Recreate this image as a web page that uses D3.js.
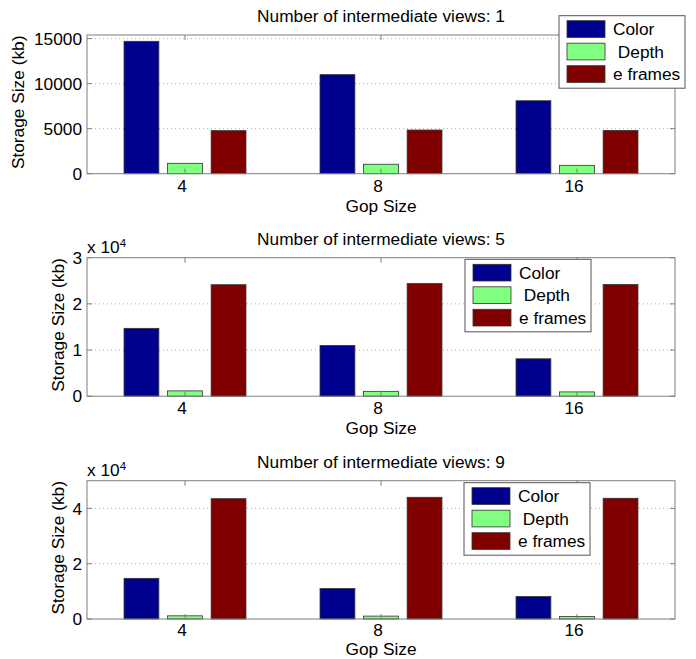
<!DOCTYPE html>
<html>
<head>
<meta charset="utf-8">
<script src="https://cdn.jsdelivr.net/npm/d3@7"></script>
<style>
  body { margin: 0; background: #fff; }
  text { font-family: "Liberation Sans", Arial, sans-serif; fill: #000; }
</style>
</head>
<body>
<script>
/* Data */
var gopSizes = ["4", "8", "16"],
	seriesNames = ["Color", " Depth", "e frames"],
	seriesColors = ["#00008f", "#80ff80", "#800000"],
	viewCounts = [1, 5, 9],
	colorKb = [14700, 11000, 8100],
	depthKb = [1150, 1050, 930],
	eFramesViews1 = [4780, 4850, 4800],
	eFramesViews5 = [24150, 24400, 24200],
	eFramesViews9 = [43500, 44000, 43650],
	yTicksViews1 = [0, 5000, 10000, 15000],
	yTicksViews5 = [0, 10000, 20000, 30000],
	yTicksViews9 = [0, 20000, 40000];

/* Panel layout */
var W = 696, H = 659,
	axLeft = 87, axRight = 675,
	panels = [
		{views: viewCounts[0], eFrames: eFramesViews1, ticks: yTicksViews1, yMax: 15400, top: 35, bottom: 173.7, factor: 1, ylabelX: 24, legend: [559, 15.7], tickDy: 18, xlabelDy: 37.8},
		{views: viewCounts[1], eFrames: eFramesViews5, ticks: yTicksViews5, yMax: 30000, top: 257.7, bottom: 396.2, factor: 1e4, ylabelX: 64, legend: [465, 259.3], tickDy: 18, xlabelDy: 37.8},
		{views: viewCounts[2], eFrames: eFramesViews9, ticks: yTicksViews9, yMax: 50000, top: 480.7, bottom: 619, factor: 1e4, ylabelX: 64, legend: [464, 482.7], tickDy: 16.6, xlabelDy: 35.8}
	];

var svg = d3.select("body").append("svg")
	.attr("width", W)
	.attr("height", H);
svg.append("rect").attr("width", W).attr("height", H).style("fill", "white");

var x = d3.scaleLinear().domain([0.5, 3.5]).range([axLeft, axRight]);
// matlab grouped bar: 3 series, offset 2/9, width 0.8 of that
var barStep = 2 / 9, barWidth = barStep * 0.8;
var fontSize = 17.3, axisGray = "#7f7f7f";

panels.forEach(function(p) {
	var y = d3.scaleLinear().domain([0, p.yMax]).range([p.bottom, p.top]);
	var g = svg.append("g");
	var series = [colorKb, depthKb, p.eFrames];

	// grid lines
	g.selectAll("line.grid")
		.data(p.ticks.filter(function(t) { return t > 0 && t < p.yMax; }))
		.enter().append("line")
			.attr("x1", axLeft).attr("x2", axRight)
			.attr("y1", function(d) { return y(d); })
			.attr("y2", function(d) { return y(d); })
			.style("stroke", "#b0b0b0")
			.style("stroke-width", 1)
			.style("stroke-dasharray", "1,3");

	// bars
	series.forEach(function(vals, j) {
		g.selectAll("rect.s" + j)
			.data(vals)
			.enter().append("rect")
				.attr("x", function(d, i) { return x(i + 1 + (j - 1) * barStep - barWidth / 2); })
				.attr("width", x(barWidth) - x(0))
				.attr("y", function(d) { return y(d); })
				.attr("height", function(d) { return y(0) - y(d); })
				.style("fill", seriesColors[j])
				.style("stroke", "#333")
				.style("stroke-width", 0.8);
	});

	// axis box
	g.append("rect")
		.attr("x", axLeft).attr("y", p.top)
		.attr("width", axRight - axLeft).attr("height", p.bottom - p.top)
		.style("fill", "none").style("stroke", axisGray).style("stroke-width", 1);

	// y ticks left and right, pointing in
	p.ticks.forEach(function(t) {
		[[axLeft, 5], [axRight, -5]].forEach(function(s) {
			g.append("line")
				.attr("x1", s[0]).attr("x2", s[0] + s[1])
				.attr("y1", y(t)).attr("y2", y(t))
				.style("stroke", axisGray);
		});
	});
	g.selectAll("text.ytick")
		.data(p.ticks)
		.enter().append("text")
			.attr("x", axLeft - 5)
			.attr("y", function(d) { return y(d); })
			.attr("dy", "0.36em")
			.attr("text-anchor", "end")
			.style("font-size", fontSize + "px")
			.text(function(d) { return d / p.factor; });

	// x ticks bottom and top
	gopSizes.forEach(function(lab, i) {
		[[p.bottom, -5], [p.top, 5]].forEach(function(s) {
			g.append("line")
				.attr("x1", x(i + 1)).attr("x2", x(i + 1))
				.attr("y1", s[0]).attr("y2", s[0] + s[1])
				.style("stroke", axisGray);
		});
		g.append("text")
			.attr("x", x(i + 1) - 3)
			.attr("y", p.bottom + p.tickDy)
			.attr("text-anchor", "middle")
			.style("font-size", fontSize + "px")
			.text(lab);
	});

	// exponent label
	if (p.factor !== 1) {
		var ex = g.append("text")
			.attr("x", axLeft)
			.attr("y", p.top - 5)
			.style("font-size", fontSize + "px");
		ex.append("tspan").text("x 10");
		ex.append("tspan")
			.attr("dy", "-0.5em")
			.style("font-size", "11.5px")
			.text("4");
	}

	// title and axis labels
	g.append("text")
		.attr("x", (axLeft + axRight) / 2)
		.attr("y", p.top - 13)
		.attr("text-anchor", "middle")
		.style("font-size", fontSize + "px")
		.text("Number of intermediate views: " + p.views);
	g.append("text")
		.attr("x", (axLeft + axRight) / 2)
		.attr("y", p.bottom + p.xlabelDy)
		.attr("text-anchor", "middle")
		.style("font-size", fontSize + "px")
		.text("Gop Size");
	g.append("text")
		.attr("transform", "translate(" + p.ylabelX + "," + ((p.top + p.bottom) / 2 - 2) + ") rotate(-90)")
		.attr("text-anchor", "middle")
		.style("font-size", fontSize + "px")
		.text("Storage Size (kb)");

	// legend
	var lg = g.append("g").attr("transform", "translate(" + p.legend[0] + "," + p.legend[1] + ")");
	lg.append("rect")
		.attr("width", 126).attr("height", 72.5)
		.style("fill", "white").style("stroke", "#555").style("stroke-width", 1);
	seriesNames.forEach(function(name, j) {
		lg.append("rect")
			.attr("x", 8).attr("y", 5 + j * 22.5)
			.attr("width", 38).attr("height", 16.7)
			.style("fill", seriesColors[j])
			.style("stroke", "#333").style("stroke-width", 0.8);
		lg.append("text")
			.attr("x", 54).attr("y", 13.3 + j * 22.5)
			.attr("dy", "0.36em")
			.attr("xml:space", "preserve")
			.style("white-space", "pre")
			.style("font-size", fontSize + "px")
			.text(name);
	});
});
</script>
</body>
</html>
